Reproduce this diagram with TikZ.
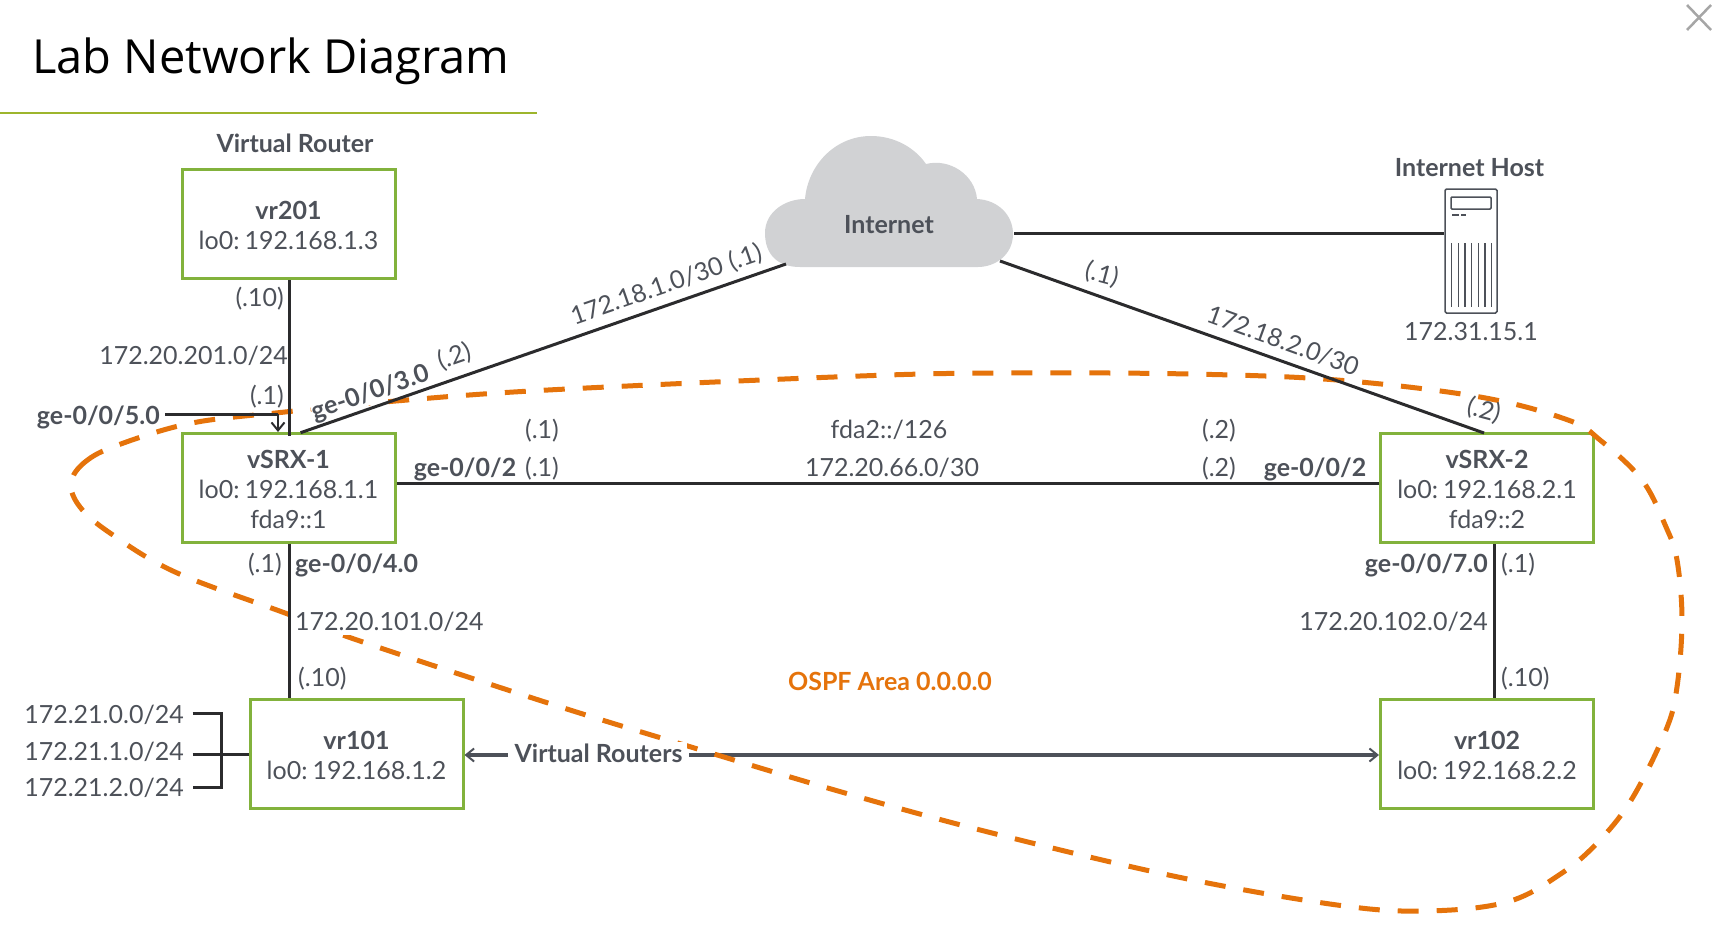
\documentclass[tikz,border=0pt]{standalone}
\usepackage{fontspec}
\setmainfont{Lato}
\newfontfamily\titlefont{Open Sans}
\usetikzlibrary{arrows.meta}
\definecolor{txtgray}{HTML}{4D5159}
\definecolor{boxgreen}{HTML}{82B23C}
\definecolor{rulegreen}{HTML}{9DB52C}
\definecolor{ospforange}{HTML}{E5730B}
\definecolor{cloudgray}{HTML}{D1D2D4}
\definecolor{linkdark}{HTML}{2B2B2D}
\newcommand{\boxhead}[1]{\rule{0pt}{22pt}\textbf{#1}}
\newcommand{\lozero}[1]{lo0:\hspace{5pt}#1}
\tikzset{
  routerbox/.style={draw=boxgreen, line width=3pt, minimum width=213pt, align=center,
    inner sep=0pt, text=txtgray, font=\fontsize{25}{30}\selectfont},
  lbl/.style={text=txtgray, font=\fontsize{25}{30}\selectfont, inner sep=0pt, text height=21pt, text depth=4pt},
  lblb/.style={lbl, font=\fontsize{25}{30}\selectfont\bfseries},
  link/.style={draw=linkdark, line width=3pt},
  tip/.style={-{Straight Barb[length=8pt,width=13pt,line width=2pt]}},
}
\begin{document}
\begin{tikzpicture}[x=1pt, y=-1pt]
      \useasboundingbox (0, 0) rectangle (1718, 934);
      \node[anchor=base west, inner sep=0pt, font=\fontsize{47}{56}\selectfont\titlefont] (title) at (32, 73.5) {Lab Network Diagram};
      \draw[rulegreen, line width=2pt] (0, 112.7) -- (537, 112.7);
      \draw[gray!70, line width=2.5pt] (1687, 5) -- (1711, 30);
      \draw[gray!70, line width=2.5pt] (1711, 5) -- (1687, 30);

      \node[routerbox, minimum height=109pt] (vr201) at (288.5, 224) {\boxhead{vr201}\\\lozero{192.168.1.3}};
      \node[routerbox, minimum height=109pt] (vsrx1) at (288.5, 488) {\boxhead{vSRX-1}\\\lozero{192.168.1.1}\\fda9::1};
      \node[routerbox, minimum height=109pt] (vr101) at (356.5, 754) {\boxhead{vr101}\\\lozero{192.168.1.2}};
      \node[routerbox, minimum height=109pt] (vsrx2) at (1487, 488) {\boxhead{vSRX-2}\\\lozero{192.168.2.1}\\fda9::2};
      \node[routerbox, minimum height=109pt] (vr102) at (1487, 754) {\boxhead{vr102}\\\lozero{192.168.2.2}};

      \coordinate (cloudl) at (786, 264);
      \coordinate (cloudb) at (1000, 261);
      \coordinate (cloudr) at (1014, 233);
      \fill[cloudgray] (800, 267) .. controls (778, 267) and (765, 255) .. (765, 233)
        .. controls (765, 212) and (785, 199) .. (805, 199)
        .. controls (808, 165) and (835, 136) .. (871, 136)
        .. controls (895, 136) and (915, 148) .. (926, 164)
        .. controls (950, 158) and (975, 175) .. (977, 199)
        .. controls (998, 200) and (1013, 215) .. (1013, 234)
        .. controls (1013, 255) and (995, 267) .. (978, 267) -- cycle;
      \node[lblb] (inet) at (889, 225) {Internet};

      \node[draw=txtgray, line width=1.5pt, rounded corners=1.5pt, minimum width=52pt, minimum height=124pt, inner sep=0pt] (host) at (1471, 251) {};
      \draw[txtgray, line width=1.5pt, rounded corners=1pt] (1451, 197) rectangle (1491, 209);
      \draw[txtgray, line width=1.2pt] (1452, 215) -- (1459, 215);
      \draw[txtgray, line width=1.2pt] (1461, 215) -- (1466, 215);
      \foreach \i in {0,...,6} {
        \draw[txtgray, line width=1.2pt] (1451.7 + 6.67*\i, 243) -- (1451.7 + 6.67*\i, 307);
      }

      \coordinate (vrleft) at (508, 755);
      \coordinate (vrright) at (689, 755);
      \draw[tip, txtgray, line width=3.5pt] (vrleft) -- (vr101.east |- vrleft);
      \draw[tip, txtgray, line width=3.5pt] (vrright) -- (vr102.west |- vrright);

      \draw[ospforange, line width=5pt, dash pattern=on 21pt off 18pt] plot[smooth cycle, tension=0.6] coordinates {
        (71, 483) (85, 462) (118, 445) (192, 423) (285, 412) (384, 402) (548, 390) (860, 376)
        (1008, 373) (1189, 374) (1337, 380) (1480, 397) (1568, 420) (1600, 440) (1642, 480)
        (1666, 527) (1677, 560) (1682, 620) (1677, 687) (1666, 730) (1633, 797) (1600, 840)
        (1562, 873) (1507, 902) (1425, 911) (1337, 905) (1178, 877) (992, 833) (845, 793)
        (691, 747) (548, 703) (357, 640) (285, 613) (175, 572) (110, 533) (80, 507)};

      \draw[link] ([xshift=1pt]vr201.south) -- ([xshift=1pt, yshift=-4pt]vsrx1.north);
      \draw[link] ([xshift=1pt]vsrx1.south) -- ([xshift=1pt]vsrx1.south |- vr101.north);
      \draw[link] ([xshift=7pt]vsrx2.south) -- ([xshift=7pt]vr102.north);
      \coordinate (midlink) at (900, 483);
      \draw[link] (vsrx1.east |- midlink) -- (vsrx2.west |- midlink);
      \coordinate (s1top) at (300.6, 432.7);
      \coordinate (s2top) at (1484, 433);
      \draw[link] (s1top) -- (cloudl);
      \draw[link] (cloudb) -- (s2top);
      \draw[link] (cloudr) -- (cloudr -| host.west);

      \node[lblb, anchor=east] (ge5) at (160, 416) {ge-0/0/5.0};
      \coordinate (ge5in) at (278, 414);
      \draw[link] ([xshift=5pt]ge5.east |- ge5in) -- (ge5in);
      \draw[tip, link, line width=2pt] (ge5in) -- (ge5in |- vsrx1.north);

      \node[lblb] (vrtop) at (295, 144) {Virtual Router};
      \node[lblb] (hosttop) at (1469.5, 168) {Internet Host};
      \node[lbl] (hostip) at (1471, 332) {172.31.15.1};
      \node[lblb, text=ospforange] (ospf) at (890, 682) {OSPF Area 0.0.0.0};

      \node[lbl, anchor=east] (a1) at (284, 298) {(.10)};
      \node[lbl, anchor=east] (a2) at (288, 356) {172.20.201.0/24};
      \node[lbl, anchor=east] (a3) at (284, 396) {(.1)};

      \node[lbl, rotate=19] (b1) at (647, 291) {172.18.1.0/30};
      \node[lbl, rotate=19] (b2) at (745, 257) {(.1)};
      \node[lblb, rotate=19, fill=white] (b3) at (370, 392) {ge-0/0/3.0};
      \node[lbl, rotate=19] (b4) at (454, 356) {(.2)};

      \node[lbl, rotate=-15] (c1) at (1102, 274) {(.1)};
      \node[lbl, rotate=-20] (c2) at (1283, 341) {172.18.2.0/30};
      \node[lbl, rotate=-15] (c3) at (1484, 410) {(.2)};

      \node[lbl] (d1) at (542, 430) {(.1)};
      \node[lbl] (d2) at (889, 430) {fda2::/126};
      \node[lbl] (d3) at (1219, 430) {(.2)};
      \node[lblb] (d4) at (465, 468) {ge-0/0/2};
      \node[lbl] (d5) at (542, 468) {(.1)};
      \node[lbl] (d6) at (892, 468) {172.20.66.0/30};
      \node[lbl] (d7) at (1219, 468) {(.2)};
      \node[lblb] (d8) at (1315, 468) {ge-0/0/2};

      \node[lbl, anchor=east] (e1) at (282, 564) {(.1)};
      \node[lblb, anchor=west] (e2) at (295, 564) {ge-0/0/4.0};
      \node[lbl, anchor=west, fill=white] (e3) at (295, 622) {172.20.101.0/24};
      \node[lbl, anchor=west] (e4) at (298, 678) {(.10)};

      \node[lblb, anchor=east] (f1) at (1488, 564) {ge-0/0/7.0};
      \node[lbl, anchor=west] (f2) at (1501, 564) {(.1)};
      \node[lbl, anchor=east] (f3) at (1488, 622) {172.20.102.0/24};
      \node[lbl, anchor=west] (f4) at (1501, 678) {(.10)};

      \node[lbl, anchor=east] (n0) at (184, 715) {172.21.0.0/24};
      \node[lbl, anchor=east] (n1) at (184, 752) {172.21.1.0/24};
      \node[lbl, anchor=east] (n2) at (184, 788) {172.21.2.0/24};
      \coordinate (bustop) at (221, 713);
      \coordinate (busmid) at (221, 754);
      \coordinate (busbot) at (221, 787);
      \draw[link] ([xshift=8.5pt]n0.east |- bustop) -- (bustop) -- (busbot) -- ([xshift=8.5pt]n2.east |- busbot);
      \draw[link] ([xshift=8.5pt]n1.east |- busmid) -- (vr101.west |- busmid);

      \node[lblb, fill=white, inner xsep=5pt] (vrs) at (598.5, 754) {Virtual Routers};
\end{tikzpicture}
\end{document}
